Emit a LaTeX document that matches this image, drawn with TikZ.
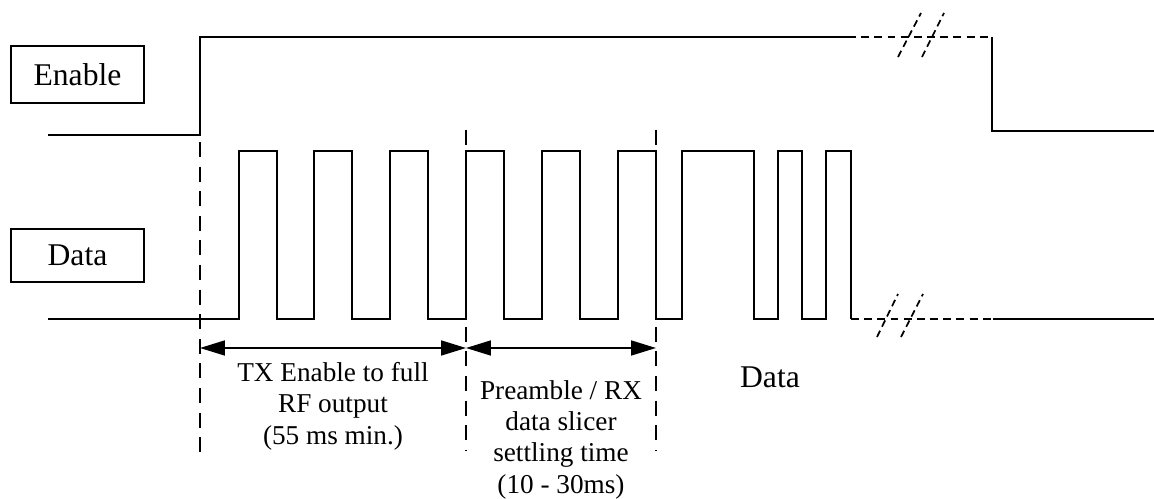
\documentclass[tikz,border=0pt]{standalone}
\usepackage{fontspec}
\setmainfont{Liberation Serif}
\usetikzlibrary{arrows.meta}

\tikzset{
  sigbox/.style={draw, line width=1pt, minimum width=2.66cm, inner sep=0pt, font=\fontsize{18}{20}\selectfont},
  wave/.style={line width=1.1pt},
  gap/.style={line width=1.1pt, dash pattern=on 4.5pt off 3pt},
  guide/.style={line width=1pt, dash pattern=on 8.5pt off 5.5pt},
  cut/.style={line width=1pt, dash pattern=on 4pt off 2.5pt},
  note/.style={align=center, font=\fontsize{15.5}{17.8}\selectfont, inner sep=0pt},
}

\begin{document}
\begin{tikzpicture}[x=0.02cm, y=-0.02cm, >={Triangle[length=5mm,width=3mm]}]
    \useasboundingbox (0,0) rectangle (1154,499);

    % 1. Signal names
    \node[sigbox, minimum height=1.14cm] (enable) at (77.5,74.5) {Enable};
    \node[sigbox, minimum height=1.06cm] (data) at (77.5,255.5) {Data};

    % 2. Enable line
    \draw[wave] (48,135) -- (200,135) -- (200,37) -- (848,37);
    \draw[gap] (848,37) -- (992,37);
    \draw[wave] (992,37) -- (992,131) -- (1154,131);

    % 3. Data line: preamble pulses, then data bits
    \draw[wave] (48,319)
        \foreach \x in {239,314,390,466,542,618} {
            -- (\x,319) -- (\x,151) -- ({\x+38},151) -- ({\x+38},319)
        }
        -- (682,319) -- (682,151) -- (754,151) -- (754,319)
        -- (778,319) -- (778,151) -- (802,151) -- (802,319)
        -- (826,319) -- (826,151) -- (851,151) -- (851,319);
    \draw[gap] (851,319) -- (993,319);
    \draw[wave] (993,319) -- (1154,319);

    % Break marks
    \draw[cut] (898,57) -- (921,13) (922,57) -- (944,13);
    \draw[cut] (877,337) -- (898,294) (901,337) -- (923,294);

    % 4. Time marks and spans
    \coordinate (t0) at (200,348);
    \coordinate (t1) at (466,348);
    \coordinate (t2) at (656,348);
    \draw[guide] (200,142) -- (200,453);
    \draw[guide] (466,130) -- (466,450);
    \draw[guide] (656,130) -- (656,450);
    \draw[<->, line width=1pt] (t0) -- (t1);
    \draw[<->, line width=1pt] (t1) -- (t2);

    % 5. Labels
    \node[note, anchor=north] (warmup) at (333,362) {TX Enable to full\\RF output\\(55 ms min.)};
    \node[note, anchor=north] (settle) at (561,380) {Preamble / RX\\data slicer\\settling time\\(10 - 30ms)};
    \node[font=\fontsize{18}{20}\selectfont, anchor=base] (payload) at (770,388) {Data};
\end{tikzpicture}
\end{document}
